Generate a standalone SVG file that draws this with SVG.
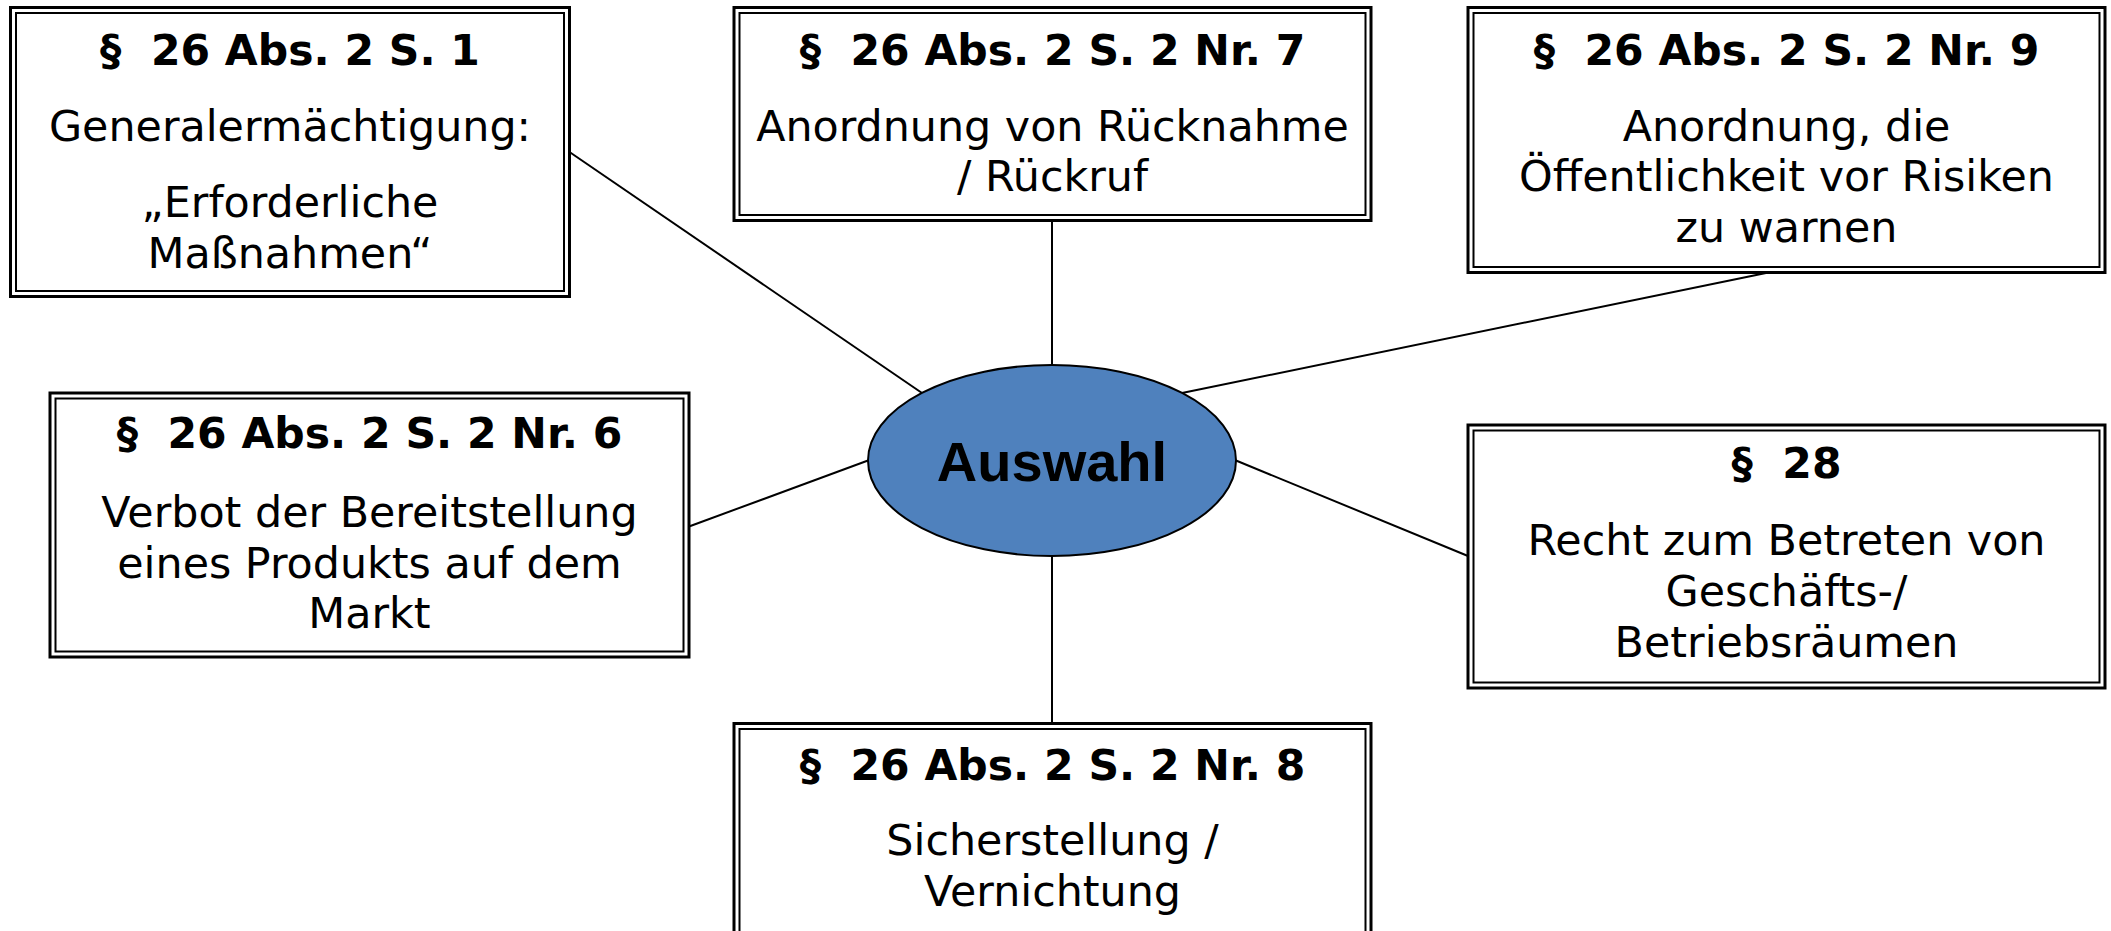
<svg xmlns="http://www.w3.org/2000/svg" width="2111" height="931" viewBox="0 0 2111 931">
<style>
.outer{fill:#fff;stroke:#000;stroke-width:3}
.inner{fill:none;stroke:#000;stroke-width:2}
.h{font-family:"DejaVu Sans",Verdana,sans-serif;font-weight:bold;font-size:42.5px;text-anchor:middle;fill:#000}
.t{font-family:"DejaVu Sans",Verdana,sans-serif;font-size:42.8px;text-anchor:middle;fill:#000}
.c{stroke:#000;stroke-width:2;fill:none}
</style>
<rect width="2111" height="931" fill="#fff"/>
<g id="connectors">
<line class="c" x1="569.5" y1="152" x2="922" y2="393"/>
<line class="c" x1="1052" y1="221" x2="1052" y2="365"/>
<line class="c" x1="1766" y1="273" x2="1182" y2="393"/>
<line class="c" x1="689" y1="526.5" x2="868" y2="460.5"/>
<line class="c" x1="1236" y1="460.5" x2="1468" y2="556"/>
<line class="c" x1="1052" y1="556" x2="1052" y2="723.5"/>
</g>
<g id="n1">
<rect class="outer" x="10.5" y="7.5" width="559" height="289"/>
<rect class="inner" x="16" y="13" width="548" height="278"/>
<text class="h" x="290" y="64.5" xml:space="preserve">§  26 Abs. 2 S. 1</text>
<text class="t" x="290" y="140.5">Generalermächtigung:</text>
<text class="t" x="290" y="217">„Erforderliche</text>
<text class="t" x="290" y="268">Maßnahmen“</text>
</g>
<g id="n2">
<rect class="outer" x="734" y="7.5" width="637" height="213"/>
<rect class="inner" x="739.5" y="13" width="626" height="202"/>
<text class="h" x="1052.5" y="64.5" xml:space="preserve">§  26 Abs. 2 S. 2 Nr. 7</text>
<text class="t" x="1052.5" y="140.5">Anordnung von Rücknahme</text>
<text class="t" x="1052.5" y="191">/ Rückruf</text>
</g>
<g id="n3">
<rect class="outer" x="1468" y="7.5" width="637" height="265"/>
<rect class="inner" x="1473.5" y="13" width="626" height="254"/>
<text class="h" x="1786.5" y="64.5" xml:space="preserve">§  26 Abs. 2 S. 2 Nr. 9</text>
<text class="t" x="1786.5" y="140.5">Anordnung, die</text>
<text class="t" x="1786.5" y="191">Öffentlichkeit vor Risiken</text>
<text class="t" x="1786.5" y="242">zu warnen</text>
</g>
<g id="n4">
<rect class="outer" x="50" y="393" width="639" height="264"/>
<rect class="inner" x="55.5" y="398.5" width="628" height="253"/>
<text class="h" x="369.5" y="448" xml:space="preserve">§  26 Abs. 2 S. 2 Nr. 6</text>
<text class="t" x="369.5" y="527">Verbot der Bereitstellung</text>
<text class="t" x="369.5" y="577.5">eines Produkts auf dem</text>
<text class="t" x="369.5" y="628">Markt</text>
</g>
<g id="n5">
<rect class="outer" x="1468" y="425" width="637" height="263"/>
<rect class="inner" x="1473.5" y="430.5" width="626" height="252"/>
<text class="h" x="1786.5" y="478" xml:space="preserve">§  28</text>
<text class="t" x="1786.5" y="555">Recht zum Betreten von</text>
<text class="t" x="1786.5" y="605.5">Geschäfts-/</text>
<text class="t" x="1786.5" y="657">Betriebsräumen</text>
</g>
<g id="n6">
<rect class="outer" x="734" y="723.5" width="637" height="230"/>
<rect class="inner" x="739.5" y="729" width="626" height="219"/>
<text class="h" x="1052.5" y="780" xml:space="preserve">§  26 Abs. 2 S. 2 Nr. 8</text>
<text class="t" x="1052.5" y="855">Sicherstellung /</text>
<text class="t" x="1052.5" y="906">Vernichtung</text>
</g>
<g id="center">
<ellipse cx="1052" cy="460.5" rx="184" ry="95.5" fill="#4f81bd" stroke="#000" stroke-width="2"/>
<text x="1052" y="481" font-family="'Liberation Sans',Arial,sans-serif" font-weight="bold" font-size="56" text-anchor="middle" fill="#000">Auswahl</text>
</g>
</svg>
